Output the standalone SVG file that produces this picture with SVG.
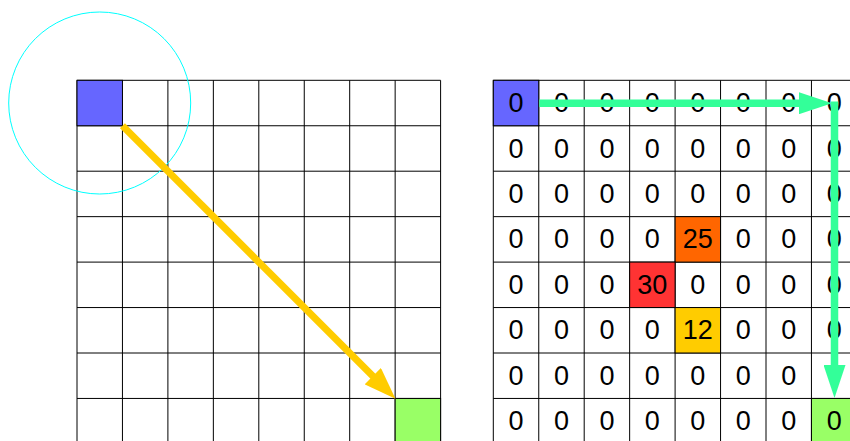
<svg xmlns="http://www.w3.org/2000/svg" width="850" height="441" viewBox="0 0 850 441">
<style>
.gl{stroke:#000;stroke-width:1;fill:none}
.cell{stroke:#000;stroke-width:1}
.t{font-family:"Liberation Sans",Arial,sans-serif;font-size:27px;text-anchor:middle;fill:#000}
.ya{stroke:#FFCC00;stroke-width:7;fill:none}
.ga{stroke:#33FF99;stroke-width:7.5;fill:none}
</style>
<defs>
<marker id="mY" markerUnits="userSpaceOnUse" markerWidth="32" markerHeight="23" refX="1" refY="11.5" orient="auto" viewBox="0 0 32 23">
<path d="M0,0 L32,11.5 L0,23 z" fill="#FFCC00"/>
</marker>
<marker id="mG" markerUnits="userSpaceOnUse" markerWidth="33" markerHeight="22" refX="1" refY="11" orient="auto" viewBox="0 0 33 22">
<path d="M0,0 L33,11 L0,22 z" fill="#33FF99"/>
</marker>
</defs>
<rect width="850" height="441" fill="#fff"/>
<g id="grid-left">
<path class="gl" d="M77,80.3V443.9M122.45,80.3V443.9M167.9,80.3V443.9M213.35,80.3V443.9M258.8,80.3V443.9M304.25,80.3V443.9M349.7,80.3V443.9M395.15,80.3V443.9M440.6,80.3V443.9M77,80.3H440.6M77,125.75H440.6M77,171.2H440.6M77,216.65H440.6M77,262.1H440.6M77,307.55H440.6M77,353H440.6M77,398.45H440.6"/>
</g>
<g id="left-start"><rect class="cell" x="77" y="80.3" width="45.45" height="45.45" fill="#6666FF"/></g>
<g id="left-goal"><rect class="cell" x="395.15" y="398.45" width="45.45" height="45.45" fill="#99FF66"/></g>
<g id="range-circle"><circle cx="99.7" cy="103" r="91" fill="none" stroke="#00FFFF" stroke-width="1"/></g>
<g id="grid-right">
<path class="gl" d="M493.3,80.3V443.9M538.75,80.3V443.9M584.2,80.3V443.9M629.65,80.3V443.9M675.1,80.3V443.9M720.55,80.3V443.9M766,80.3V443.9M811.45,80.3V443.9M856.9,80.3V443.9M493.3,80.3H856.9M493.3,125.75H856.9M493.3,171.2H856.9M493.3,216.65H856.9M493.3,262.1H856.9M493.3,307.55H856.9M493.3,353H856.9M493.3,398.45H856.9"/>
</g>
<g id="right-start"><rect class="cell" x="493.3" y="80.3" width="45.45" height="45.45" fill="#6666FF"/></g>
<g id="right-goal"><rect class="cell" x="811.45" y="398.45" width="45.45" height="45.45" fill="#99FF66"/></g>
<g id="cost-25"><rect class="cell" x="675.1" y="216.65" width="45.45" height="45.45" fill="#FF6600"/></g>
<g id="cost-30"><rect class="cell" x="629.65" y="262.1" width="45.45" height="45.45" fill="#FF3333"/></g>
<g id="cost-12"><rect class="cell" x="675.1" y="307.55" width="45.45" height="45.45" fill="#FFCC00"/></g>
<g id="values">
<text class="t" x="516.03" y="112">0</text><text class="t" x="561.48" y="112">0</text><text class="t" x="606.93" y="112">0</text><text class="t" x="652.38" y="112">0</text><text class="t" x="697.83" y="112">0</text><text class="t" x="743.28" y="112">0</text><text class="t" x="788.73" y="112">0</text><text class="t" x="834.18" y="112">0</text>
<text class="t" x="516.03" y="157.5">0</text><text class="t" x="561.48" y="157.5">0</text><text class="t" x="606.93" y="157.5">0</text><text class="t" x="652.38" y="157.5">0</text><text class="t" x="697.83" y="157.5">0</text><text class="t" x="743.28" y="157.5">0</text><text class="t" x="788.73" y="157.5">0</text><text class="t" x="834.18" y="157.5">0</text>
<text class="t" x="516.03" y="202.9">0</text><text class="t" x="561.48" y="202.9">0</text><text class="t" x="606.93" y="202.9">0</text><text class="t" x="652.38" y="202.9">0</text><text class="t" x="697.83" y="202.9">0</text><text class="t" x="743.28" y="202.9">0</text><text class="t" x="788.73" y="202.9">0</text><text class="t" x="834.18" y="202.9">0</text>
<text class="t" x="516.03" y="248.4">0</text><text class="t" x="561.48" y="248.4">0</text><text class="t" x="606.93" y="248.4">0</text><text class="t" x="652.38" y="248.4">0</text><text class="t" x="697.83" y="248.4">25</text><text class="t" x="743.28" y="248.4">0</text><text class="t" x="788.73" y="248.4">0</text><text class="t" x="834.18" y="248.4">0</text>
<text class="t" x="516.03" y="293.8">0</text><text class="t" x="561.48" y="293.8">0</text><text class="t" x="606.93" y="293.8">0</text><text class="t" x="652.38" y="293.8">30</text><text class="t" x="697.83" y="293.8">0</text><text class="t" x="743.28" y="293.8">0</text><text class="t" x="788.73" y="293.8">0</text><text class="t" x="834.18" y="293.8">0</text>
<text class="t" x="516.03" y="339.3">0</text><text class="t" x="561.48" y="339.3">0</text><text class="t" x="606.93" y="339.3">0</text><text class="t" x="652.38" y="339.3">0</text><text class="t" x="697.83" y="339.3">12</text><text class="t" x="743.28" y="339.3">0</text><text class="t" x="788.73" y="339.3">0</text><text class="t" x="834.18" y="339.3">0</text>
<text class="t" x="516.03" y="384.7">0</text><text class="t" x="561.48" y="384.7">0</text><text class="t" x="606.93" y="384.7">0</text><text class="t" x="652.38" y="384.7">0</text><text class="t" x="697.83" y="384.7">0</text><text class="t" x="743.28" y="384.7">0</text><text class="t" x="788.73" y="384.7">0</text>
<text class="t" x="516.03" y="430.2">0</text><text class="t" x="561.48" y="430.2">0</text><text class="t" x="606.93" y="430.2">0</text><text class="t" x="652.38" y="430.2">0</text><text class="t" x="697.83" y="430.2">0</text><text class="t" x="743.28" y="430.2">0</text><text class="t" x="788.73" y="430.2">0</text><text class="t" x="834.18" y="430.2">0</text>
</g>
<g id="connectors">
<path class="ya" d="M122.45,125.75 L373.5,376.8" marker-end="url(#mY)"/>
<path class="ga" d="M539.3,103.2 H800" marker-end="url(#mG)"/>
<path class="ga" d="M834.5,101.5 V366" marker-end="url(#mG)"/>
</g>
</svg>
